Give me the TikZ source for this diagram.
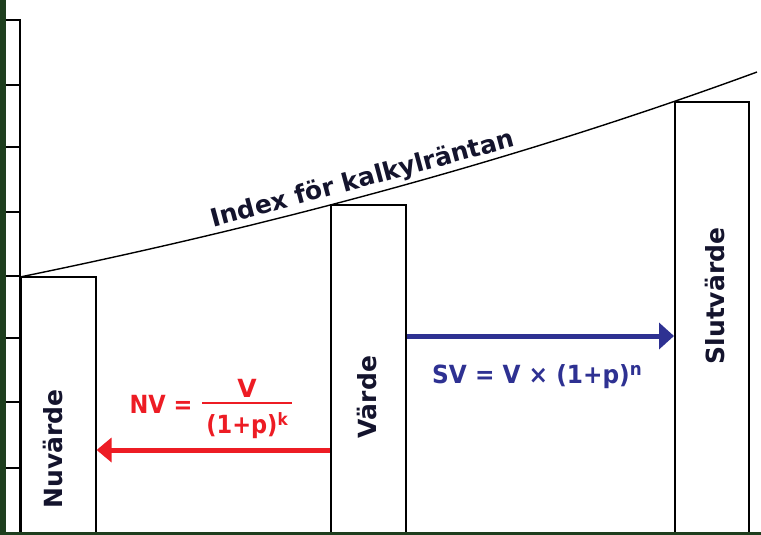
\documentclass[tikz,border=0pt]{standalone}
\usepackage{fontspec}
\usepackage{graphicx}
\setmainfont{DejaVu Sans}
\usetikzlibrary{arrows.meta}
\definecolor{framegreen}{RGB}{30,62,30}
\definecolor{ink}{RGB}{20,20,45}
\definecolor{nvred}{RGB}{237,28,36}
\definecolor{svblue}{RGB}{46,49,146}
\begin{document}
\begin{tikzpicture}[x=1pt,y=-1pt,
  bar/.style={draw=black, line width=1.6pt, fill=white, anchor=north west, minimum width=75pt, inner sep=0pt},
  lab/.style={text=ink, font=\fontsize{25}{25}\selectfont\bfseries, inner sep=0pt},
  nvtext/.style={text=nvred, font=\fontsize{25}{25}\selectfont\bfseries, inner sep=0pt},
  svtext/.style={text=svblue, font=\fontsize{25}{25}\selectfont\bfseries, inner sep=0pt},
  nvarrow/.style={draw=nvred, line width=5pt, -{Triangle[length=15pt,width=24pt]}},
  svarrow/.style={draw=svblue, line width=5pt, -{Triangle[length=15pt,width=26pt]}},
  tick/.style={line width=1.6pt}
]
\useasboundingbox (0,0) rectangle (761,535);
\fill[white] (0,0) rectangle (761,535);
% axis
\draw[tick] (6,20) -- (20,20) -- (20,535);
\foreach \t in {85,147,212,276,338,402,468} \draw[tick] (6,\t) -- (20,\t);
% bars
\node[bar, minimum height=259pt] (nuv) at (20,276) {};
\node[bar, minimum height=331pt] (vard) at (330,204) {};
\node[bar, minimum height=434pt, minimum width=74pt] (slut) at (674,101) {};
% index curve
\draw[line width=1.4pt, black] plot[domain=20:757, samples=80] (\x, {535-258*exp(0.00079*(\x-20))});
% labels
\node[lab, rotate=90] (nuvl) at (53,449) {Nuvärde};
\node[lab, rotate=90] (vardl) at (367,397) {Värde};
\node[lab, rotate=90] (slutl) at (715,296) {Slutvärde};
\node[lab, rotate=15] (idx) at (363,180) {Index för kalkylräntan};
% arrows
\coordinate (ry) at (0,450);
\coordinate (by) at (0,336);
\draw[nvarrow] (vard.west |- ry) -- (nuv.east |- ry);
\draw[svarrow] (vard.east |- by) -- (slut.west |- by);
% formulas
\node[nvtext, anchor=base] (nv) at (161,413) {\scalebox{0.9}[1]{NV =}};
\node[nvtext, anchor=base] (num) at (247,397) {V};
\coordinate (barl) at (202,403);
\coordinate (barr) at (292,403);
\draw[nvred, line width=2pt] (barl) -- (barr);
\node[nvtext, anchor=base] (den) at (247,433) {\scalebox{0.9}[1]{(1+p)\raisebox{8pt}{\fontsize{17}{17}\selectfont k}}};
\node[svtext, anchor=base west] (sv) at (432,383) {\scalebox{0.93}[1]{SV = V × (1+p)\raisebox{8pt}{\fontsize{18}{18}\selectfont n}}};
% frame
\fill[framegreen] (0,0) rectangle (6,535);
\fill[framegreen] (0,532) rectangle (761,535);
\end{tikzpicture}
\end{document}
